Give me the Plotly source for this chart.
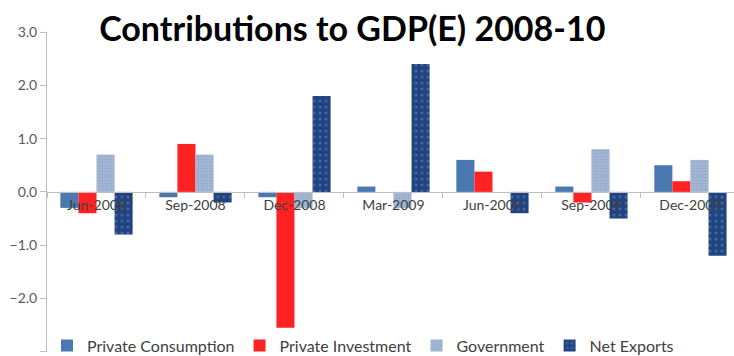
import plotly.graph_objects as go

categories = ["Jun-2008", "Sep-2008", "Dec-2008", "Mar-2009", "Jun-2009", "Sep-2009", "Dec-2009"]
private_consumption = [-0.3, -0.1, -0.1, 0.1, 0.6, 0.1, 0.5]
private_investment = [-0.4, 0.9, -2.55, 0.0, 0.38, -0.2, 0.2]
government = [0.7, 0.7, -0.3, -0.3, 0.0, 0.8, 0.6]
net_exports = [-0.8, -0.2, 1.8, 2.4, -0.4, -0.5, -1.2]
y_ticks = [3, 2, 1, 0, -1, -2, -3]

FONT = "Lato"

fig = go.Figure()
fig.add_bar(name="Private Consumption", x=categories, y=private_consumption,
            marker=dict(color="#4A78B0", line=dict(width=0)))
fig.add_bar(name="Private Investment", x=categories, y=private_investment,
            marker=dict(color="#FF2222", line=dict(width=0)))
fig.add_bar(name="Government", x=categories, y=government,
            marker=dict(color="#A9BCD8", line=dict(width=0),
                        pattern=dict(shape=".", fgcolor="#7F97BD", size=3, solidity=0.5)))
fig.add_bar(name="Net Exports", x=categories, y=net_exports,
            marker=dict(color="#1F4480", line=dict(width=0),
                        pattern=dict(shape=".", fgcolor="#6A89BC", size=6, solidity=0.2)))

fig.update_layout(
    width=734, height=356,
    margin=dict(l=47, r=0, t=32, b=4, autoexpand=False),
    paper_bgcolor="white", plot_bgcolor="white",
    barmode="group", bargap=0.27, bargroupgap=0,
    font=dict(family=FONT, color="#595959"),
    title=dict(text="<b>Contributions to GDP(E) 2008-10</b>", x=0.48, xref="container",
               xanchor="center", y=1 - 29 / 356, yanchor="middle",
               font=dict(family=FONT, size=34, color="#000000")),
    xaxis=dict(range=[-0.5, 6.44], anchor="free", position=0.5,
               showline=True, linecolor="#BFBFBF", linewidth=1,
               ticks="outside", tickson="boundaries", ticklen=5, tickcolor="#BFBFBF",
               showgrid=False, zeroline=False,
               tickfont=dict(family=FONT, size=14, color="#404040")),
    yaxis=dict(range=[-3.004, 3.0], tickvals=y_ticks, tickformat=".1f",
               showline=True, linecolor="#BFBFBF", linewidth=1,
               ticks="outside", ticklen=6, tickcolor="#BFBFBF",
               showgrid=False, zeroline=False,
               tickfont=dict(family=FONT, size=14, color="#595959")),
    legend=dict(orientation="h", x=0.0, xanchor="left", y=0.02, yanchor="middle",
                bgcolor="rgba(0,0,0,0)", font=dict(family=FONT, size=16, color="#404040"),
                itemwidth=30, traceorder="normal"),
    showlegend=True,
)

fig.write_html("out.html")
